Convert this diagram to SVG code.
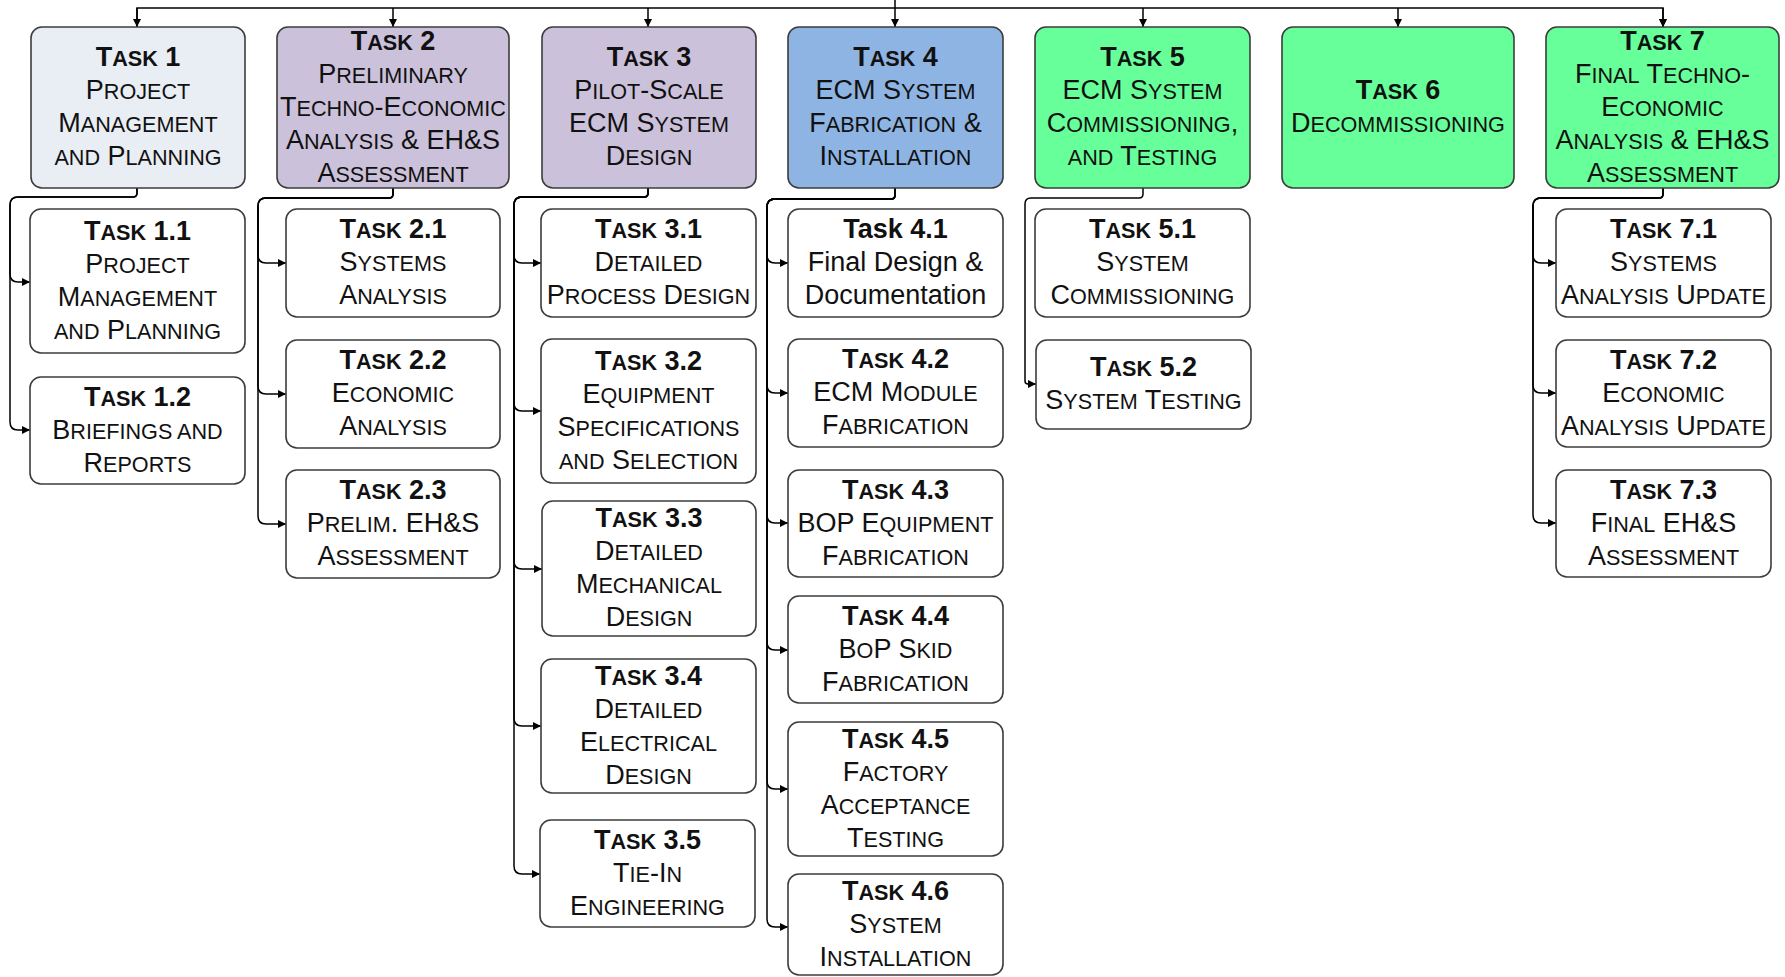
<svg xmlns="http://www.w3.org/2000/svg" width="1785" height="977" viewBox="0 0 1785 977">
<style>
.bx{stroke:#3c3c3c;stroke-width:1.6}
.w{fill:#ffffff}
.c1{fill:#e9edf4}
.c2{fill:#ccc1da}
.c4{fill:#8eb4e3}
.c5{fill:#66ff99}
.t{font-family:"Liberation Sans",Arial,sans-serif;font-size:27px;fill:#111;text-anchor:middle}
.b{font-weight:bold}
.s{font-size:21.6px}
.cn{fill:none;stroke:#000;stroke-width:1.5}
</style>
<defs>
<marker id="ah" viewBox="0 0 10 10" refX="10" refY="5" markerWidth="9" markerHeight="8" orient="auto" markerUnits="userSpaceOnUse"><path d="M0,0 L10,5 L0,10 z" fill="#000"/></marker>
</defs>
<g id="connectors">
<path class="cn" d="M895,0 V8"/>
<path class="cn" d="M137,27 V8 H1663 V27" marker-end="url(#ah)"/>
<path class="cn" d="M137,8 V27" marker-end="url(#ah)"/>
<path class="cn" d="M393,8 V27" marker-end="url(#ah)"/>
<path class="cn" d="M648,8 V27" marker-end="url(#ah)"/>
<path class="cn" d="M895,8 V27" marker-end="url(#ah)"/>
<path class="cn" d="M1143,8 V27" marker-end="url(#ah)"/>
<path class="cn" d="M1398,8 V27" marker-end="url(#ah)"/>
<path class="cn" d="M1663,8 V27" marker-end="url(#ah)"/>
<!-- Task 1 children -->
<path class="cn" d="M137,188 V193 Q137,197 133,197 H18 Q10,197 10,205 V274 Q10,282 18,282 H30" marker-end="url(#ah)"/>
<path class="cn" d="M137,188 V193 Q137,197 133,197 H18 Q10,197 10,205 V422 Q10,430 18,430 H30" marker-end="url(#ah)"/>
<!-- Task 2 children -->
<path class="cn" d="M393,188 V194 Q393,198 389,198 H266 Q258,198 258,206 V255 Q258,263 266,263 H286" marker-end="url(#ah)"/>
<path class="cn" d="M393,188 V194 Q393,198 389,198 H266 Q258,198 258,206 V386 Q258,394 266,394 H286" marker-end="url(#ah)"/>
<path class="cn" d="M393,188 V194 Q393,198 389,198 H266 Q258,198 258,206 V516 Q258,524 266,524 H286" marker-end="url(#ah)"/>
<!-- Task 3 children -->
<path class="cn" d="M648,188 V193 Q648,197 644,197 H522 Q514,197 514,205 V255 Q514,263 522,263 H541" marker-end="url(#ah)"/>
<path class="cn" d="M648,188 V193 Q648,197 644,197 H522 Q514,197 514,205 V403 Q514,411 522,411 H541" marker-end="url(#ah)"/>
<path class="cn" d="M648,188 V193 Q648,197 644,197 H522 Q514,197 514,205 V561 Q514,569 522,569 H542" marker-end="url(#ah)"/>
<path class="cn" d="M648,188 V193 Q648,197 644,197 H522 Q514,197 514,205 V718 Q514,726 522,726 H541" marker-end="url(#ah)"/>
<path class="cn" d="M648,188 V193 Q648,197 644,197 H522 Q514,197 514,205 V866 Q514,874 522,874 H540" marker-end="url(#ah)"/>
<!-- Task 4 children -->
<path class="cn" d="M895,188 V195 Q895,199 891,199 H775 Q767,199 767,207 V255 Q767,263 775,263 H788" marker-end="url(#ah)"/>
<path class="cn" d="M895,188 V195 Q895,199 891,199 H775 Q767,199 767,207 V385 Q767,393 775,393 H788" marker-end="url(#ah)"/>
<path class="cn" d="M895,188 V195 Q895,199 891,199 H775 Q767,199 767,207 V515 Q767,523 775,523 H788" marker-end="url(#ah)"/>
<path class="cn" d="M895,188 V195 Q895,199 891,199 H775 Q767,199 767,207 V642 Q767,650 775,650 H788" marker-end="url(#ah)"/>
<path class="cn" d="M895,188 V195 Q895,199 891,199 H775 Q767,199 767,207 V781 Q767,789 775,789 H788" marker-end="url(#ah)"/>
<path class="cn" d="M895,188 V195 Q895,199 891,199 H775 Q767,199 767,207 V919 Q767,927 775,927 H788" marker-end="url(#ah)"/>
<!-- Task 5 child -->
<path class="cn" d="M1143,188 V194 Q1143,198 1139,198 H1031 Q1025,198 1025,204 V381 Q1025,384 1028,384 H1036" marker-end="url(#ah)"/>
<!-- Task 7 children -->
<path class="cn" d="M1663,188 V194 Q1663,198 1659,198 H1541 Q1533,198 1533,206 V255 Q1533,263 1541,263 H1556" marker-end="url(#ah)"/>
<path class="cn" d="M1663,188 V194 Q1663,198 1659,198 H1541 Q1533,198 1533,206 V385 Q1533,393 1541,393 H1556" marker-end="url(#ah)"/>
<path class="cn" d="M1663,188 V194 Q1663,198 1659,198 H1541 Q1533,198 1533,206 V515 Q1533,523 1541,523 H1556" marker-end="url(#ah)"/>
</g>
<g id="task1">
<rect class="bx c1" x="31" y="27" width="214" height="161" rx="11"/>
<text class="t b" x="138" y="66">T<tspan class="s">ASK</tspan> 1</text>
<text class="t" x="138" y="99">P<tspan class="s">ROJECT</tspan></text>
<text class="t" x="138" y="132">M<tspan class="s">ANAGEMENT</tspan></text>
<text class="t" x="138" y="165"><tspan class="s">AND</tspan> P<tspan class="s">LANNING</tspan></text>
</g>
<g id="task2">
<rect class="bx c2" x="277" y="27" width="232" height="161" rx="11"/>
<text class="t b" x="393" y="49.5">T<tspan class="s">ASK</tspan> 2</text>
<text class="t" x="393" y="82.5">P<tspan class="s">RELIMINARY</tspan></text>
<text class="t" x="393" y="115.5">T<tspan class="s">ECHNO</tspan>-E<tspan class="s">CONOMIC</tspan></text>
<text class="t" x="393" y="148.5">A<tspan class="s">NALYSIS</tspan> &amp; EH&amp;S</text>
<text class="t" x="393" y="181.5">A<tspan class="s">SSESSMENT</tspan></text>
</g>
<g id="task3">
<rect class="bx c2" x="542" y="27" width="214" height="161" rx="11"/>
<text class="t b" x="649" y="66">T<tspan class="s">ASK</tspan> 3</text>
<text class="t" x="649" y="99">P<tspan class="s">ILOT</tspan>-S<tspan class="s">CALE</tspan></text>
<text class="t" x="649" y="132">ECM S<tspan class="s">YSTEM</tspan></text>
<text class="t" x="649" y="165">D<tspan class="s">ESIGN</tspan></text>
</g>
<g id="task4">
<rect class="bx c4" x="788" y="27" width="215" height="161" rx="11"/>
<text class="t b" x="895.5" y="66">T<tspan class="s">ASK</tspan> 4</text>
<text class="t" x="895.5" y="99">ECM S<tspan class="s">YSTEM</tspan></text>
<text class="t" x="895.5" y="132">F<tspan class="s">ABRICATION</tspan> &amp;</text>
<text class="t" x="895.5" y="165">I<tspan class="s">NSTALLATION</tspan></text>
</g>
<g id="task5">
<rect class="bx c5" x="1035" y="27" width="215" height="161" rx="11"/>
<text class="t b" x="1142.5" y="66">T<tspan class="s">ASK</tspan> 5</text>
<text class="t" x="1142.5" y="99">ECM S<tspan class="s">YSTEM</tspan></text>
<text class="t" x="1142.5" y="132">C<tspan class="s">OMMISSIONING</tspan>,</text>
<text class="t" x="1142.5" y="165"><tspan class="s">AND</tspan> T<tspan class="s">ESTING</tspan></text>
</g>
<g id="task6">
<rect class="bx c5" x="1282" y="27" width="232" height="161" rx="11"/>
<text class="t b" x="1398" y="99">T<tspan class="s">ASK</tspan> 6</text>
<text class="t" x="1398" y="132">D<tspan class="s">ECOMMISSIONING</tspan></text>
</g>
<g id="task7">
<rect class="bx c5" x="1546" y="27" width="233" height="161" rx="11"/>
<text class="t b" x="1662.5" y="49.5">T<tspan class="s">ASK</tspan> 7</text>
<text class="t" x="1662.5" y="82.5">F<tspan class="s">INAL</tspan> T<tspan class="s">ECHNO</tspan>-</text>
<text class="t" x="1662.5" y="115.5">E<tspan class="s">CONOMIC</tspan></text>
<text class="t" x="1662.5" y="148.5">A<tspan class="s">NALYSIS</tspan> &amp; EH&amp;S</text>
<text class="t" x="1662.5" y="181.5">A<tspan class="s">SSESSMENT</tspan></text>
</g>
<g id="task1-1">
<rect class="bx w" x="30" y="209" width="215" height="144" rx="11"/>
<text class="t b" x="137.5" y="239.5">T<tspan class="s">ASK</tspan> 1.1</text>
<text class="t" x="137.5" y="272.5">P<tspan class="s">ROJECT</tspan></text>
<text class="t" x="137.5" y="305.5">M<tspan class="s">ANAGEMENT</tspan></text>
<text class="t" x="137.5" y="338.5"><tspan class="s">AND</tspan> P<tspan class="s">LANNING</tspan></text>
</g>
<g id="task1-2">
<rect class="bx w" x="30" y="377" width="215" height="107" rx="11"/>
<text class="t b" x="137.5" y="405.5">T<tspan class="s">ASK</tspan> 1.2</text>
<text class="t" x="137.5" y="438.5">B<tspan class="s">RIEFINGS AND</tspan></text>
<text class="t" x="137.5" y="471.5">R<tspan class="s">EPORTS</tspan></text>
</g>
<g id="task2-1">
<rect class="bx w" x="286" y="209" width="214" height="108" rx="11"/>
<text class="t b" x="393" y="238">T<tspan class="s">ASK</tspan> 2.1</text>
<text class="t" x="393" y="271">S<tspan class="s">YSTEMS</tspan></text>
<text class="t" x="393" y="304">A<tspan class="s">NALYSIS</tspan></text>
</g>
<g id="task2-2">
<rect class="bx w" x="286" y="340" width="214" height="108" rx="11"/>
<text class="t b" x="393" y="369">T<tspan class="s">ASK</tspan> 2.2</text>
<text class="t" x="393" y="402">E<tspan class="s">CONOMIC</tspan></text>
<text class="t" x="393" y="435">A<tspan class="s">NALYSIS</tspan></text>
</g>
<g id="task2-3">
<rect class="bx w" x="286" y="470" width="214" height="108" rx="11"/>
<text class="t b" x="393" y="499">T<tspan class="s">ASK</tspan> 2.3</text>
<text class="t" x="393" y="532">P<tspan class="s">RELIM</tspan>. EH&amp;S</text>
<text class="t" x="393" y="565">A<tspan class="s">SSESSMENT</tspan></text>
</g>
<g id="task3-1">
<rect class="bx w" x="541" y="209" width="215" height="108" rx="11"/>
<text class="t b" x="648.5" y="238">T<tspan class="s">ASK</tspan> 3.1</text>
<text class="t" x="648.5" y="271">D<tspan class="s">ETAILED</tspan></text>
<text class="t" x="648.5" y="304">P<tspan class="s">ROCESS</tspan> D<tspan class="s">ESIGN</tspan></text>
</g>
<g id="task3-2">
<rect class="bx w" x="541" y="339" width="215" height="144" rx="11"/>
<text class="t b" x="648.5" y="369.5">T<tspan class="s">ASK</tspan> 3.2</text>
<text class="t" x="648.5" y="402.5">E<tspan class="s">QUIPMENT</tspan></text>
<text class="t" x="648.5" y="435.5">S<tspan class="s">PECIFICATIONS</tspan></text>
<text class="t" x="648.5" y="468.5"><tspan class="s">AND</tspan> S<tspan class="s">ELECTION</tspan></text>
</g>
<g id="task3-3">
<rect class="bx w" x="542" y="501" width="214" height="135" rx="11"/>
<text class="t b" x="649" y="527">T<tspan class="s">ASK</tspan> 3.3</text>
<text class="t" x="649" y="560">D<tspan class="s">ETAILED</tspan></text>
<text class="t" x="649" y="593">M<tspan class="s">ECHANICAL</tspan></text>
<text class="t" x="649" y="626">D<tspan class="s">ESIGN</tspan></text>
</g>
<g id="task3-4">
<rect class="bx w" x="541" y="659" width="215" height="134" rx="11"/>
<text class="t b" x="648.5" y="684.5">T<tspan class="s">ASK</tspan> 3.4</text>
<text class="t" x="648.5" y="717.5">D<tspan class="s">ETAILED</tspan></text>
<text class="t" x="648.5" y="750.5">E<tspan class="s">LECTRICAL</tspan></text>
<text class="t" x="648.5" y="783.5">D<tspan class="s">ESIGN</tspan></text>
</g>
<g id="task3-5">
<rect class="bx w" x="540" y="820" width="215" height="107" rx="11"/>
<text class="t b" x="647.5" y="848.5">T<tspan class="s">ASK</tspan> 3.5</text>
<text class="t" x="647.5" y="881.5">T<tspan class="s">IE</tspan>-I<tspan class="s">N</tspan></text>
<text class="t" x="647.5" y="914.5">E<tspan class="s">NGINEERING</tspan></text>
</g>
<g id="task4-1">
<rect class="bx w" x="788" y="209" width="215" height="108" rx="11"/>
<text class="t b" x="895.5" y="238">Task 4.1</text>
<text class="t" x="895.5" y="271">Final Design &amp;</text>
<text class="t" x="895.5" y="304">Documentation</text>
</g>
<g id="task4-2">
<rect class="bx w" x="788" y="339" width="215" height="108" rx="11"/>
<text class="t b" x="895.5" y="368">T<tspan class="s">ASK</tspan> 4.2</text>
<text class="t" x="895.5" y="401">ECM M<tspan class="s">ODULE</tspan></text>
<text class="t" x="895.5" y="434">F<tspan class="s">ABRICATION</tspan></text>
</g>
<g id="task4-3">
<rect class="bx w" x="788" y="470" width="215" height="107" rx="11"/>
<text class="t b" x="895.5" y="498.5">T<tspan class="s">ASK</tspan> 4.3</text>
<text class="t" x="895.5" y="531.5">BOP E<tspan class="s">QUIPMENT</tspan></text>
<text class="t" x="895.5" y="564.5">F<tspan class="s">ABRICATION</tspan></text>
</g>
<g id="task4-4">
<rect class="bx w" x="788" y="596" width="215" height="107" rx="11"/>
<text class="t b" x="895.5" y="624.5">T<tspan class="s">ASK</tspan> 4.4</text>
<text class="t" x="895.5" y="657.5">B<tspan class="s">O</tspan>P S<tspan class="s">KID</tspan></text>
<text class="t" x="895.5" y="690.5">F<tspan class="s">ABRICATION</tspan></text>
</g>
<g id="task4-5">
<rect class="bx w" x="788" y="722" width="215" height="134" rx="11"/>
<text class="t b" x="895.5" y="747.5">T<tspan class="s">ASK</tspan> 4.5</text>
<text class="t" x="895.5" y="780.5">F<tspan class="s">ACTORY</tspan></text>
<text class="t" x="895.5" y="813.5">A<tspan class="s">CCEPTANCE</tspan></text>
<text class="t" x="895.5" y="846.5">T<tspan class="s">ESTING</tspan></text>
</g>
<g id="task4-6">
<rect class="bx w" x="788" y="874" width="215" height="101" rx="11"/>
<text class="t b" x="895.5" y="899.5">T<tspan class="s">ASK</tspan> 4.6</text>
<text class="t" x="895.5" y="932.5">S<tspan class="s">YSTEM</tspan></text>
<text class="t" x="895.5" y="965.5">I<tspan class="s">NSTALLATION</tspan></text>
</g>
<g id="task5-1">
<rect class="bx w" x="1035" y="209" width="215" height="108" rx="11"/>
<text class="t b" x="1142.5" y="238">T<tspan class="s">ASK</tspan> 5.1</text>
<text class="t" x="1142.5" y="271">S<tspan class="s">YSTEM</tspan></text>
<text class="t" x="1142.5" y="304">C<tspan class="s">OMMISSIONING</tspan></text>
</g>
<g id="task5-2">
<rect class="bx w" x="1036" y="340" width="215" height="89" rx="11"/>
<text class="t b" x="1143.5" y="376">T<tspan class="s">ASK</tspan> 5.2</text>
<text class="t" x="1143.5" y="409">S<tspan class="s">YSTEM</tspan> T<tspan class="s">ESTING</tspan></text>
</g>
<g id="task7-1">
<rect class="bx w" x="1556" y="209" width="215" height="108" rx="11"/>
<text class="t b" x="1663.5" y="238">T<tspan class="s">ASK</tspan> 7.1</text>
<text class="t" x="1663.5" y="271">S<tspan class="s">YSTEMS</tspan></text>
<text class="t" x="1663.5" y="304">A<tspan class="s">NALYSIS</tspan> U<tspan class="s">PDATE</tspan></text>
</g>
<g id="task7-2">
<rect class="bx w" x="1556" y="340" width="215" height="107" rx="11"/>
<text class="t b" x="1663.5" y="368.5">T<tspan class="s">ASK</tspan> 7.2</text>
<text class="t" x="1663.5" y="401.5">E<tspan class="s">CONOMIC</tspan></text>
<text class="t" x="1663.5" y="434.5">A<tspan class="s">NALYSIS</tspan> U<tspan class="s">PDATE</tspan></text>
</g>
<g id="task7-3">
<rect class="bx w" x="1556" y="470" width="215" height="107" rx="11"/>
<text class="t b" x="1663.5" y="498.5">T<tspan class="s">ASK</tspan> 7.3</text>
<text class="t" x="1663.5" y="531.5">F<tspan class="s">INAL</tspan> EH&amp;S</text>
<text class="t" x="1663.5" y="564.5">A<tspan class="s">SSESSMENT</tspan></text>
</g>
</svg>
